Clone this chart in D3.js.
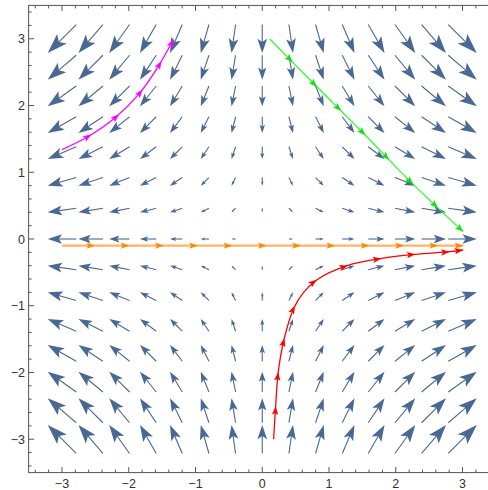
<!DOCTYPE html>
<html>
<head>
<meta charset="utf-8">
<title>vector field</title>
<script src="https://cdn.jsdelivr.net/npm/d3@7"></script>
<style>
  body { margin: 0; background: #fff; }
  text { font-family: "Liberation Sans", Arial, sans-serif; }
</style>
</head>
<body>
<svg width="488" height="490" id="mainsvg"></svg>
<script>
// grid of the vector field (15 x 15)
const gridX = [-3, -2.57, -2.14, -1.71, -1.29, -0.86, -0.43, 0, 0.43, 0.86, 1.29, 1.71, 2.14, 2.57, 3];
const gridY = [3, 2.57, 2.14, 1.71, 1.29, 0.86, 0.43, 0, -0.43, -0.86, -1.29, -1.71, -2.14, -2.57, -3];
// horizontal component of each column, vertical component of each row
const uByColumn = [-3, -2.57, -2.14, -1.71, -1.29, -0.86, -0.43, 0, 0.43, 0.86, 1.29, 1.71, 2.14, 2.57, 3];
const vByRow = [-3, -2.57, -2.14, -1.71, -1.29, -0.86, -0.43, 0, 0.43, 0.86, 1.29, 1.71, 2.14, 2.57, 3];

// curves drawn over the field
const magentaPts = [[-3, 1.34], [-2.6, 1.54], [-2.2, 1.82], [-1.85, 2.17], [-1.58, 2.55], [-1.33, 2.99]];
const greenPts = [[0.11, 3.0], [0.77, 2.33], [1.49, 1.61], [2.22, 0.86], [3.01, 0.11]];
const orangePts = [[-3, -0.1], [3.01, -0.1]];
const redPts = [[0.17, -3.0], [0.2, -2.52], [0.24, -1.99], [0.33, -1.49], [0.47, -1.04], [0.62, -0.8], [0.82, -0.61], [1.27, -0.4], [1.79, -0.29], [2.29, -0.23], [2.81, -0.19], [3.01, -0.165]];

const majorTicks = [-3, -2, -1, 0, 1, 2, 3];
const minorTicks = d3.range(-34, 35, 2).map(d => d / 10).filter(d => Math.abs(d - Math.round(d)) > 1e-6);

const svg = d3.select('#mainsvg');
const xScale = d3.scaleLinear().domain([-3.5, 3.5]).range([28.6, 495.9]);
const yScale = d3.scaleLinear().domain([-3.5, 3.5]).range([472.6, 5.4]);
const lenScale = d3.scaleLinear().domain([0, 1]).range([0, 9.5]);

const fieldColor = '#4a6894';
const axisColor = '#555';

// arrowhead polygon: tip, unit direction, length, half width
function headPoints(tx, ty, dx, dy, h, w) {
    const px = -dy, py = dx;
    const bx = tx - dx * h, by = ty - dy * h;
    const nx = tx - dx * h * 0.78, ny = ty - dy * h * 0.78;
    return [[tx, ty], [bx + px * w, by + py * w], [nx, ny], [bx - px * w, by - py * w]];
}

// vector field
const fieldGroup = svg.append('g');
const cells = [];
gridY.forEach((gy, j) => gridX.forEach((gx, i) => cells.push({x: gx, y: gy, u: uByColumn[i], v: vByRow[j]})));
cells.forEach(c => {
    const mag = Math.hypot(c.u, c.v);
    if (mag < 1e-6) return;
    const L = lenScale(mag);
    const dx = c.u / mag, dy = -c.v / mag;
    const cx = xScale(c.x), cy = yScale(c.y);
    const tail = [cx - dx * L / 2, cy - dy * L / 2];
    const tip = [cx + dx * L / 2, cy + dy * L / 2];
    const h = L * 0.5, w = L * 0.17;
    fieldGroup.append('line')
        .attr('x1', tail[0]).attr('y1', tail[1])
        .attr('x2', tip[0] - dx * h * 0.7).attr('y2', tip[1] - dy * h * 0.7)
        .attr('stroke', fieldColor).attr('stroke-width', 1.1);
    fieldGroup.append('polygon')
        .attr('points', headPoints(tip[0], tip[1], dx, dy, h, w).map(p => p.join(',')).join(' '))
        .attr('fill', fieldColor);
});

// curves with arrowheads along them
const line = d3.line().x(d => xScale(d[0])).y(d => yScale(d[1])).curve(d3.curveCatmullRom);
const curves = [
    {pts: magentaPts, stroke: '#ff00ff', head: '#ff00ff', width: 1.3},
    {pts: greenPts, stroke: '#22ff22', head: '#11dd11', width: 1.2},
    {pts: orangePts, stroke: '#ffb366', head: '#ff8800', width: 2.2},
    {pts: redPts, stroke: '#ff0000', head: '#ff0000', width: 1.3}
];
const curveGroup = svg.append('g');
curves.forEach(c => {
    const path = curveGroup.append('path')
        .attr('d', line(c.pts))
        .attr('fill', 'none')
        .attr('stroke', c.stroke)
        .attr('stroke-width', c.width);
    const node = path.node();
    const total = node.getTotalLength();
    const stops = [];
    for (let s = 33; s < total - 12; s += 34.3) stops.push(s);
    stops.push(total);
    stops.forEach(s => {
        const p = node.getPointAtLength(s);
        const q = node.getPointAtLength(Math.max(0, s - 2));
        let dx = p.x - q.x, dy = p.y - q.y;
        const m = Math.hypot(dx, dy) || 1;
        dx /= m; dy /= m;
        curveGroup.append('polygon')
            .attr('points', headPoints(p.x, p.y, dx, dy, 8.5, 3.2).map(v => v.join(',')).join(' '))
            .attr('fill', c.head);
    });
});

// frame with inward ticks
const x0 = xScale.range()[0], x1 = xScale.range()[1];
const y0 = yScale.range()[0], y1 = yScale.range()[1];
const frame = svg.append('g').attr('stroke', axisColor).attr('stroke-width', 1);
frame.append('rect').attr('x', x0).attr('y', y1).attr('width', x1 - x0).attr('height', y0 - y1).attr('fill', 'none');
const tickSets = [{vals: majorTicks, len: 5.5}, {vals: minorTicks, len: 3}];
tickSets.forEach(t => {
    t.vals.forEach(v => {
        const px = xScale(v), py = yScale(v);
        frame.append('line').attr('x1', px).attr('x2', px).attr('y1', y0).attr('y2', y0 - t.len);
        frame.append('line').attr('x1', px).attr('x2', px).attr('y1', y1).attr('y2', y1 + t.len);
        frame.append('line').attr('y1', py).attr('y2', py).attr('x1', x0).attr('x2', x0 + t.len);
        frame.append('line').attr('y1', py).attr('y2', py).attr('x1', x1).attr('x2', x1 - t.len);
    });
});

const fmt = d => d < 0 ? '\u2212' + Math.abs(d) : String(d);
svg.append('g').selectAll('text').data(majorTicks).join('text')
    .attr('x', d => xScale(d)).attr('y', 488)
    .attr('text-anchor', 'middle').attr('font-size', 12.5).attr('fill', '#333')
    .text(fmt);
svg.append('g').selectAll('text').data(majorTicks).join('text')
    .attr('x', 25).attr('y', d => yScale(d) + 4.5)
    .attr('text-anchor', 'end').attr('font-size', 12.5).attr('fill', '#333')
    .text(fmt);
</script>
</body>
</html>
